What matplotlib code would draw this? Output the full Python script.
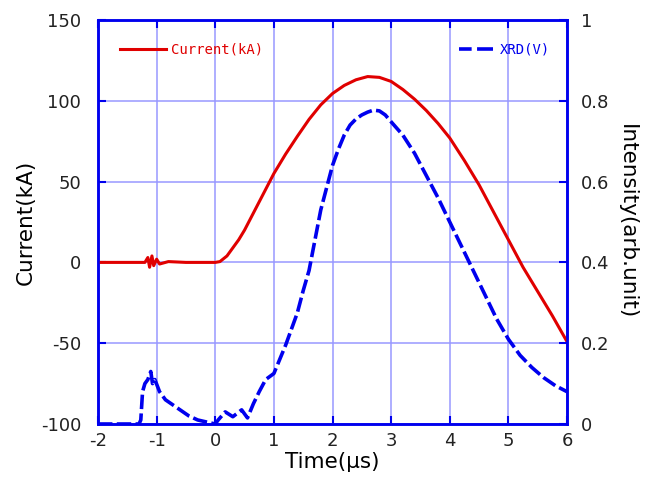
import numpy as np
import matplotlib.pyplot as plt
from matplotlib.lines import Line2D

plt.rcParams['axes.unicode_minus'] = False

# 放电电流 (kA)
t_cur = [-2.0, -1.5, -1.2, -1.15, -1.12, -1.08, -1.05, -1.0, -0.95, -0.8, -0.5, 0.0,
         0.08, 0.2, 0.3, 0.4, 0.5, 0.6, 0.7, 0.8, 0.9, 1.0, 1.2, 1.4, 1.6, 1.8, 2.0,
         2.2, 2.4, 2.6, 2.8, 3.0, 3.2, 3.4, 3.6, 3.8, 4.0, 4.25, 4.5, 4.75, 5.0, 5.25,
         5.5, 5.75, 6.0]
current = [0, 0, 0, 3, -3, 4, -2, 2, -1, 0.5, 0, 0,
           0.5, 4, 9, 14, 20, 27, 34, 41, 48, 55, 67, 78, 88.5, 97.5, 104.5,
           109.5, 113, 115, 114.5, 112, 107, 101, 94, 86, 77, 63, 48, 31, 14, -3,
           -18, -33, -49]

# XRD 强度 (arb.unit)
t_xrd = [-2.0, -1.6, -1.3, -1.27, -1.24, -1.2, -1.15, -1.1, -1.07, -1.03, -0.95, -0.85,
         -0.75, -0.6, -0.45, -0.3, -0.15, 0.0, 0.05, 0.17, 0.3, 0.45, 0.55, 0.65, 0.75,
         0.86, 1.0, 1.1, 1.2, 1.3, 1.4, 1.5, 1.6, 1.7, 1.8, 1.9, 2.0, 2.1, 2.2, 2.3,
         2.4, 2.5, 2.6, 2.7, 2.8, 2.9, 3.0, 3.2, 3.4, 3.6, 3.8, 4.0, 4.2, 4.4, 4.6,
         4.8, 5.0, 5.2, 5.4, 5.6, 5.8, 6.0]
xrd = [0.0, 0.0, 0.0, 0.01, 0.08, 0.10, 0.11, 0.13, 0.10, 0.11, 0.08, 0.06,
       0.05, 0.035, 0.02, 0.01, 0.005, 0.0, 0.01, 0.03, 0.018, 0.035, 0.015, 0.05, 0.08,
       0.11, 0.125, 0.16, 0.195, 0.235, 0.275, 0.33, 0.38, 0.455, 0.53, 0.585, 0.64, 0.68, 0.715, 0.74,
       0.755, 0.765, 0.772, 0.777, 0.775, 0.765, 0.748, 0.715, 0.67, 0.615, 0.56, 0.50, 0.44, 0.38, 0.32,
       0.26, 0.21, 0.17, 0.14, 0.115, 0.095, 0.08]

blue = '#0000ee'
grid_c = '#9898ff'

fig = plt.figure(figsize=(6.61, 4.79), dpi=100)
fig.subplots_adjust(left=98/661, right=567/661, top=1-20/479, bottom=1-424/479)
ax = fig.add_subplot(111)
ax2 = ax.twinx()

ax.plot(t_cur, current, color='#e00000', linewidth=2.2, zorder=3)
ax2.plot(t_xrd, xrd, color=blue, linewidth=2.6, dashes=(4, 1.2))

ax.set_xlim(-2, 6)
ax.set_ylim(-100, 150)
ax2.set_ylim(0, 1)
ax.set_xticks(np.arange(-2, 7, 1))
ax.set_yticks(np.arange(-100, 151, 50))
ax2.set_yticks(np.arange(0, 1.01, 0.2))
ax2.set_yticklabels(['0', '0.2', '0.4', '0.6', '0.8', '1'])

ax.grid(True, color=grid_c, linewidth=1.1)
ax.set_axisbelow(True)
for a in (ax, ax2):
    for s in a.spines.values():
        s.set_color(blue)
        s.set_linewidth(1.8)
ax.tick_params(direction='in', length=6, width=1.5, color=blue, labelsize=13,
               top=True, labelcolor='#222222')
ax.tick_params(axis='y', pad=12)
ax.tick_params(axis='x', pad=6)
ax2.tick_params(direction='in', length=6, width=1.5, color=blue, labelsize=13,
                labelcolor='#222222', pad=10)

ax.set_xlabel('Time(μs)', fontsize=15.5, labelpad=1)
ax.set_ylabel('Current(kA)', fontsize=15.5, labelpad=4)
ax2.set_ylabel('Intensity(arb.unit)', fontsize=15.5, rotation=270, labelpad=20)

h1 = Line2D([], [], color='#e00000', linewidth=2.2)
h2 = Line2D([], [], color=blue, linewidth=2.6, dashes=(3.5, 1.5, 8, 0))
leg1 = ax2.legend([h1], ['Current(kA)'], loc='upper left', bbox_to_anchor=(0.02, 0.975),
                  frameon=False, prop={'family': 'DejaVu Sans Mono', 'size': 10},
                  labelcolor='#e00000', handlelength=3.3, handletextpad=0.4)
ax2.add_artist(leg1)
ax2.legend([h2], ['XRD(V)'], loc='upper right', bbox_to_anchor=(0.99, 0.975),
           frameon=False, prop={'family': 'DejaVu Sans Mono', 'size': 10},
           labelcolor=blue, handlelength=2.4, handletextpad=0.5)

fig.savefig('out.png', dpi=100)
